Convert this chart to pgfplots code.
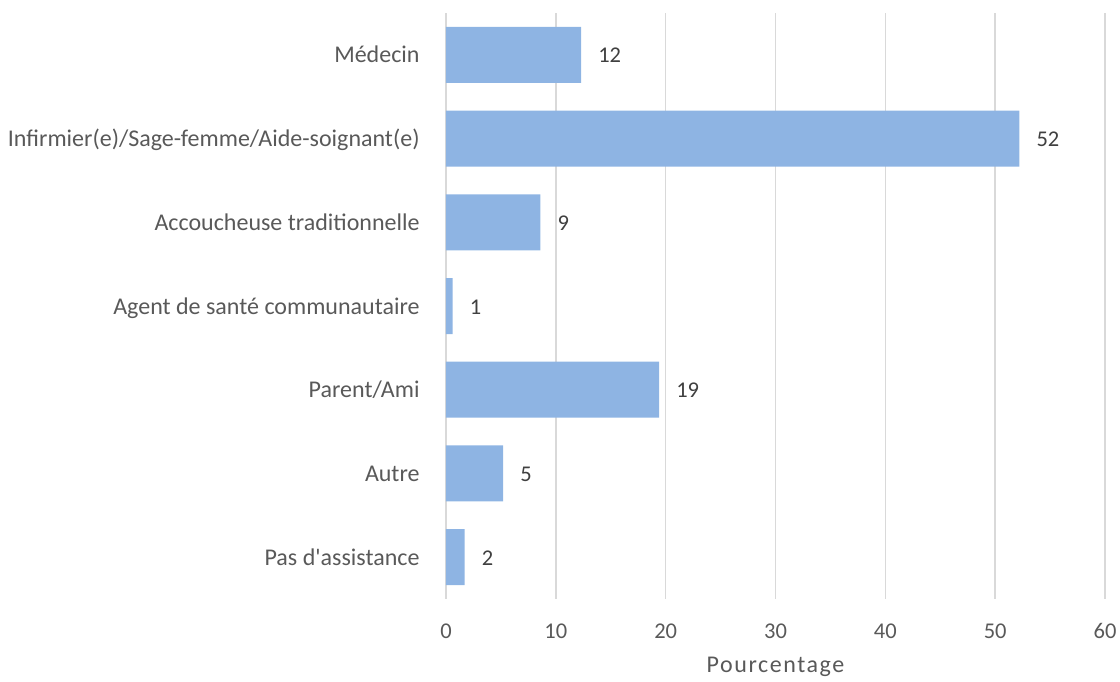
\documentclass[border=0pt]{standalone}
\usepackage{pgfplots}
\pgfplotsset{compat=1.18}
\usepackage{fontspec}
\setmainfont{Carlito}
\definecolor{barblue}{HTML}{8EB4E3}
\definecolor{gridgray}{HTML}{D9D9D9}
\definecolor{txt}{HTML}{595959}
\definecolor{lbl}{HTML}{404040}
\begin{document}
\fontsize{22}{26}\selectfont
\begin{tikzpicture}[x=1pt,y=1pt]
\useasboundingbox (0,0) rectangle (1120,681);
\begin{axis}[
  at={(446pt,82pt)}, anchor=south west,
  scale only axis, width=659pt, height=586pt,
  xbar, bar width=56pt,
  xmin=0, xmax=60, ymin=-0.5, ymax=6.5, y dir=reverse,
  xtick={0,10,...,60}, ytick={0,...,6},
  yticklabels={Médecin, Infirmier(e)/Sage-femme/Aide-soignant(e), Accoucheuse traditionnelle\hspace{5pt}, Agent de santé communautaire, Parent/Ami, Autre, Pas d\textquotesingle assistance},
  axis line style={draw=none},
  tick style={draw=none},
  xmajorgrids, major grid style={gridgray, line width=1.6pt},
  /pgf/number format/assume math mode=true,
  tick label style={text=txt, inner sep=0pt},
  x tick label style={anchor=base, yshift=-39pt, font=\fontsize{22.5}{26}\selectfont},
  y tick label style={anchor=base east, xshift=-22pt, yshift=-8pt, font=\fontsize{24}{28}\selectfont},
  xlabel={Pourcentage},
  xlabel style={at={(axis description cs:0.5,0)}, anchor=base, yshift=-73pt, inner sep=0pt, text=txt, font=\fontsize{24}{28}\selectfont\addfontfeature{LetterSpace=6.5}},
  point meta=x,
  nodes near coords={\pgfmathprintnumber[fixed,precision=0]{\pgfplotspointmeta}},
  nodes near coords style={anchor=base west, inner sep=0pt, xshift=17pt, yshift=-8pt, text=lbl, font=\fontsize{22.5}{26}\selectfont},
]
\addplot[fill=barblue, draw=none] coordinates {
  (12.3,0) (52.2,1) (8.6,2) (0.6,3) (19.4,4) (5.2,5) (1.7,6)
};
\end{axis}
\end{tikzpicture}
\end{document}
